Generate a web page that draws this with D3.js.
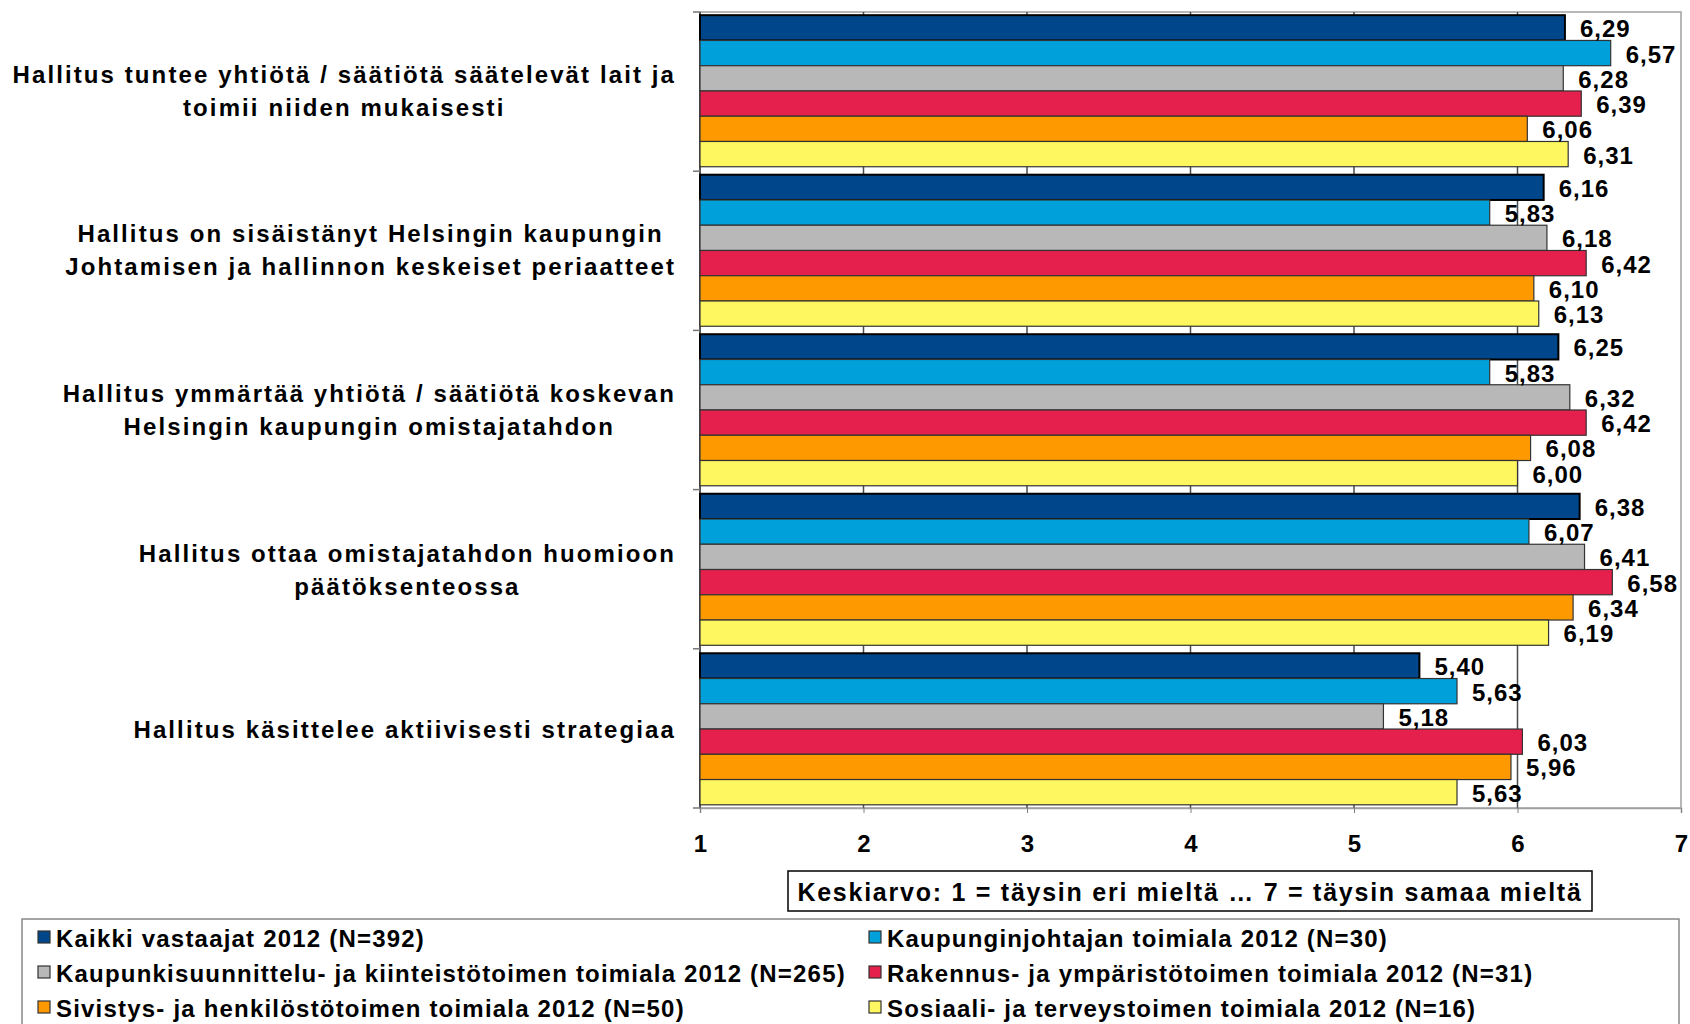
<!DOCTYPE html>
<html>
<head>
<meta charset="utf-8">
<script src="https://cdn.jsdelivr.net/npm/d3@7"></script>
<style>
  body { margin: 0; background: #fff; }
  svg { display: block; font-family: "Liberation Sans", Arial, sans-serif; }
</style>
</head>
<body>
<svg id="chart" width="1690" height="1024"></svg>
<script>
// chart data
const categories = [
  ["Hallitus tuntee yhtiötä / säätiötä säätelevät lait ja", "toimii niiden mukaisesti"],
  ["Hallitus on sisäistänyt Helsingin kaupungin", "Johtamisen ja hallinnon keskeiset periaatteet"],
  ["Hallitus ymmärtää yhtiötä / säätiötä koskevan", "Helsingin kaupungin omistajatahdon"],
  ["Hallitus ottaa omistajatahdon huomioon", "päätöksenteossa"],
  ["Hallitus käsittelee aktiivisesti strategiaa"]
];

const seriesNames = [
  "Kaikki vastaajat 2012 (N=392)",
  "Kaupunginjohtajan toimiala 2012 (N=30)",
  "Kaupunkisuunnittelu- ja kiinteistötoimen toimiala 2012 (N=265)",
  "Rakennus- ja ympäristötoimen toimiala 2012 (N=31)",
  "Sivistys- ja henkilöstötoimen toimiala 2012 (N=50)",
  "Sosiaali- ja terveystoimen toimiala 2012 (N=16)"
];

const kaikki      = [6.29, 6.16, 6.25, 6.38, 5.40];
const kaupunginj  = [6.57, 5.83, 5.83, 6.07, 5.63];
const kaupunkis   = [6.28, 6.18, 6.32, 6.41, 5.18];
const rakennus    = [6.39, 6.42, 6.42, 6.58, 6.03];
const sivistys    = [6.06, 6.10, 6.08, 6.34, 5.96];
const sosiaali    = [6.31, 6.13, 6.00, 6.19, 5.63];
const seriesValues = [kaikki, kaupunginj, kaupunkis, rakennus, sivistys, sosiaali];

const xTicks = [1, 2, 3, 4, 5, 6, 7];
const axisTitle = "Keskiarvo: 1 = täysin eri mieltä … 7 = täysin samaa mieltä";

const colors = ["#00468a", "#00a0da", "#b7b8b7", "#e5204c", "#ff9900", "#fff75f"];

const svg = d3.select("#chart");
const plot = { left: 700, right: 1681, top: 12, bottom: 808 };

const x = d3.scaleLinear().domain([1, 7]).range([plot.left, plot.right]);
const y0 = d3.scaleBand()
  .domain(d3.range(categories.length))
  .range([plot.top, plot.bottom])
  .paddingInner(0.05)
  .paddingOuter(0.02);
const y1 = d3.scaleBand()
  .domain(d3.range(seriesNames.length))
  .range([0, y0.bandwidth()]);

svg.append("rect").attr("width", 1690).attr("height", 1024).attr("fill", "#fff");

// plot border
svg.append("rect")
  .attr("x", plot.left).attr("y", plot.top)
  .attr("width", plot.right - plot.left).attr("height", plot.bottom - plot.top)
  .attr("fill", "none").attr("stroke", "#a0a0a0").attr("stroke-width", 1.5);

// gridlines
svg.append("g").selectAll("line")
  .data(xTicks.slice(1, -1))
  .join("line")
  .attr("x1", d => x(d)).attr("x2", d => x(d))
  .attr("y1", plot.top).attr("y2", plot.bottom)
  .attr("stroke", "#4a4a4a").attr("stroke-width", 1.5);

// bottom axis
const xAxis = svg.append("g")
  .attr("transform", `translate(0,${plot.bottom})`)
  .call(d3.axisBottom(x).tickValues(xTicks).tickFormat(d3.format("d")).tickSize(5).tickPadding(22));
xAxis.select(".domain").attr("stroke", "#a0a0a0").attr("stroke-width", 1.5);
xAxis.selectAll(".tick line").attr("stroke", "#808080");
xAxis.selectAll(".tick text")
  .attr("fill", "#000")
  .style("font-size", "24px")
  .style("font-weight", "bold")
  .style("font-family", "'Liberation Sans', Arial, sans-serif");

// left axis line with category tick marks
svg.append("line")
  .attr("x1", plot.left).attr("x2", plot.left)
  .attr("y1", plot.top).attr("y2", plot.bottom)
  .attr("stroke", "#555").attr("stroke-width", 2);
svg.append("g").selectAll("line")
  .data(d3.range(categories.length + 1))
  .join("line")
  .attr("x1", plot.left - 7).attr("x2", plot.left)
  .attr("y1", i => plot.top + i * (plot.bottom - plot.top) / categories.length)
  .attr("y2", i => plot.top + i * (plot.bottom - plot.top) / categories.length)
  .attr("stroke", "#777").attr("stroke-width", 1.5);

// bars
const groups = svg.append("g").selectAll("g")
  .data(categories.map((c, i) => i))
  .join("g")
  .attr("transform", i => `translate(0,${y0(i)})`);

groups.selectAll("rect")
  .data(i => seriesValues.map((vals, s) => ({ s, v: vals[i] })))
  .join("rect")
  .attr("x", x(1))
  .attr("y", d => y1(d.s))
  .attr("width", d => x(d.v) - x(1))
  .attr("height", y1.bandwidth())
  .attr("fill", d => colors[d.s])
  .attr("stroke", d => d.s === 0 ? "#000" : "#333")
  .attr("stroke-width", d => d.s === 0 ? 2 : 1.2);

groups.selectAll("text")
  .data(i => seriesValues.map((vals, s) => ({ s, v: vals[i] })))
  .join("text")
  .attr("x", d => x(d.v) + 15)
  .attr("y", d => y1(d.s) + y1.bandwidth() / 2 + 1)
  .attr("dominant-baseline", "central")
  .style("font-size", "24px")
  .style("font-weight", "bold")
  .style("letter-spacing", "1px")
  .text(d => d3.format(".2f")(d.v).replace(".", ","));

// category labels: lines centred on each other, block right-aligned
const labelRight = 676;
const lineGap = 33;
categories.forEach((lines, i) => {
  const cy = y0(i) + y0.bandwidth() / 2;
  const g = svg.append("g");
  const texts = lines.map((line, k) => g.append("text")
    .attr("y", cy + (k - (lines.length - 1) / 2) * lineGap)
    .attr("dominant-baseline", "central")
    .attr("text-anchor", "middle")
    .style("font-size", "24px")
    .style("font-weight", "bold")
    .style("letter-spacing", "2.1px")
    .text(line));
  const w = d3.max(texts, t => t.node().getComputedTextLength());
  texts.forEach(t => t.attr("x", labelRight - w / 2));
});

// axis title box
svg.append("rect")
  .attr("x", 788).attr("y", 871).attr("width", 804).attr("height", 40)
  .attr("fill", "#fff").attr("stroke", "#000").attr("stroke-width", 1.5);
svg.append("text")
  .attr("x", 1190).attr("y", 892)
  .attr("text-anchor", "middle").attr("dominant-baseline", "central")
  .style("font-size", "25px")
  .style("font-weight", "bold")
  .style("letter-spacing", "1.75px")
  .text(axisTitle);

// legend
svg.append("rect")
  .attr("x", 22).attr("y", 919).attr("width", 1657).attr("height", 130)
  .attr("fill", "#fff").attr("stroke", "#888").attr("stroke-width", 1.5);

const legendCols = [38, 869];
const legendRows = [937, 972, 1007];
const legend = svg.append("g").selectAll("g")
  .data(seriesNames)
  .join("g")
  .attr("transform", (d, i) => `translate(${legendCols[i % 2]},${legendRows[Math.floor(i / 2)]})`);
legend.append("rect")
  .attr("x", 0).attr("y", -6).attr("width", 12).attr("height", 12)
  .attr("fill", (d, i) => colors[i]).attr("stroke", "#333").attr("stroke-width", 1.2);
legend.append("text")
  .attr("x", 18).attr("y", 1)
  .attr("dominant-baseline", "central")
  .style("font-size", "24px")
  .style("font-weight", "bold")
  .style("letter-spacing", "1.2px")
  .text(d => d);
</script>
</body>
</html>
